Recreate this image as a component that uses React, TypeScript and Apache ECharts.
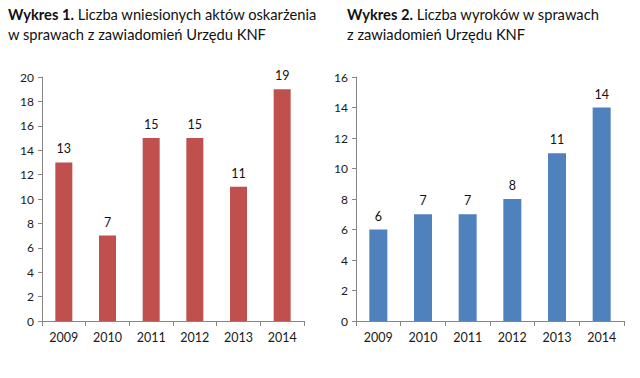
import React, { useEffect, useRef } from "react";
import * as echarts from "echarts";

const years = ["2009", "2010", "2011", "2012", "2013", "2014"];
const appeals = [13, 7, 15, 15, 11, 19];
const verdicts = [6, 7, 7, 8, 11, 14];
const title1Bold = "Wykres 1.";
const title1Rest = " Liczba wniesionych aktów oskarżenia";
const title1Line2 = "w sprawach z zawiadomień Urzędu KNF";
const title2Bold = "Wykres 2.";
const title2Rest = " Liczba wyroków w sprawach";
const title2Line2 = "z zawiadomień Urzędu KNF";

const FONT = "Lato, 'Noto Sans', sans-serif";
const AXIS_COLOR = "#868686";

export default function App() {
  const ref = useRef<HTMLDivElement>(null);
  useEffect(() => {
    if (!ref.current) return;
    const chart = echarts.init(ref.current, null, { renderer: "svg" });
    const yAxisBase = (max: number, gridIndex: number) => ({
      type: "value",
      gridIndex,
      min: 0,
      max,
      interval: 2,
      axisLine: { show: true, lineStyle: { color: AXIS_COLOR } },
      axisTick: { show: true, length: 4, lineStyle: { color: AXIS_COLOR } },
      splitLine: { show: false },
      axisLabel: { color: "#1a1a1a", fontSize: 12, fontFamily: FONT, margin: 8 },
    });
    const xAxisBase = (gridIndex: number) => ({
      type: "category",
      gridIndex,
      data: years,
      axisLine: { show: true, lineStyle: { color: AXIS_COLOR } },
      axisTick: { show: true, length: 5, alignWithLabel: false, lineStyle: { color: AXIS_COLOR } },
      axisLabel: { color: "#1a1a1a", fontSize: 12.5, fontFamily: FONT, margin: 10 },
    });
    const title = (x: number, bold: string, rest: string, line2: string) => ({
      type: "text",
      left: x,
      top: 6,
      style: {
        text: `{b|${bold}}{r|${rest}}\n{r|${line2}}`,
        rich: {
          b: { fontFamily: FONT, fontSize: 14.7, fontWeight: "bold", fill: "#111", lineHeight: 20 },
          r: { fontFamily: FONT, fontSize: 14.7, fill: "#111", lineHeight: 20 },
        },
      },
    });
    chart.setOption({
      animation: false,
      backgroundColor: "#ffffff",
      grid: [
        { left: 42, right: 336, top: 77, bottom: 57 },
        { left: 356, right: 16, top: 77, bottom: 57 },
      ],
      xAxis: [xAxisBase(0), xAxisBase(1)],
      yAxis: [yAxisBase(20, 0), yAxisBase(16, 1)],
      graphic: [
        title(8, title1Bold, title1Rest, title1Line2),
        title(347, title2Bold, title2Rest, title2Line2),
      ],
      series: [
        {
          type: "bar",
          xAxisIndex: 0,
          yAxisIndex: 0,
          data: appeals,
          barWidth: 17,
          itemStyle: { color: "#C0504D" },
          label: { show: true, position: "top", distance: 7, color: "#111", fontSize: 12.5, fontFamily: FONT },
        },
        {
          type: "bar",
          xAxisIndex: 1,
          yAxisIndex: 1,
          data: verdicts,
          barWidth: 18,
          itemStyle: { color: "#4F81BD" },
          label: { show: true, position: "top", distance: 7, color: "#111", fontSize: 12.5, fontFamily: FONT },
        },
      ],
    });
    return () => chart.dispose();
  }, []);
  return (
    <div
      ref={ref}
      style={{ position: "absolute", left: 0, top: 0, width: 640, height: 378 }}
    />
  );
}
